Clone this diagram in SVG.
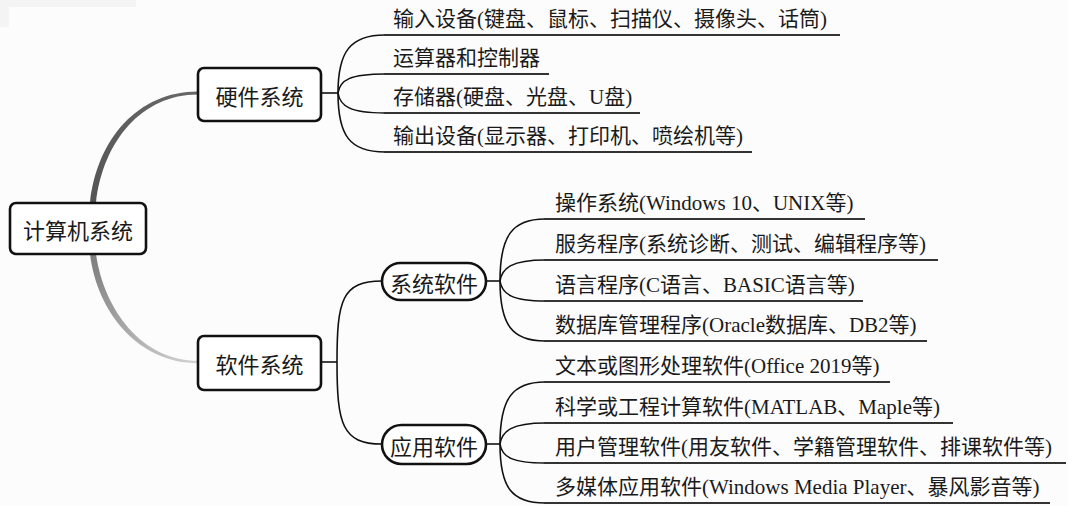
<svg xmlns="http://www.w3.org/2000/svg" width="1068" height="506" viewBox="0 0 1068 506">
<style>
.bg{fill:#fcfcfc}
.box{fill:#ffffff;stroke:#111;stroke-width:2.6}
.ntext{font-family:"Noto Sans CJK SC","Liberation Sans",sans-serif;font-size:22px;fill:#1a1a1a;text-anchor:middle;dominant-baseline:central}
.leaf{font-family:"Liberation Serif","Noto Sans CJK SC",serif;font-size:21px;fill:#1a1a1a}
.branch{fill:none;stroke:#111;stroke-width:1.6}
.uline{fill:none;stroke:#333;stroke-width:2}
</style>
<defs>
<linearGradient id="gHard" x1="0" y1="1" x2="1" y2="0">
<stop offset="0" stop-color="#555"/>
<stop offset="1" stop-color="#686868"/>
</linearGradient>
<linearGradient id="gSoft" gradientUnits="userSpaceOnUse" x1="93" y1="254" x2="198" y2="362">
<stop offset="0" stop-color="#7e7e7e"/>
<stop offset="1" stop-color="#d2d2d2"/>
</linearGradient>
</defs>
<rect class="bg" x="0" y="0" width="1068" height="506"/>
<rect x="0" y="0" width="136" height="7" fill="#f4f4f4"/>
<rect x="0" y="7" width="9" height="20" fill="#f4f4f4"/>

<g id="connectors">
<path d="M90,203 C97,139 138,91.5 198,91.5 L198,94.5 C142,94.5 103,141 96,203 Z" fill="url(#gHard)"/>
<path d="M90,254 C97,312 138,363.2 198,363.2 L198,360.8 C142,360.8 104,310 96,254 Z" fill="url(#gSoft)"/>

<path class="branch" d="M321,93 H338"/>
<path class="branch" d="M338,93 C338,52 350,35 385,35"/>
<path class="branch" d="M338,93 C340,80 350,74 385,74"/>
<path class="branch" d="M338,93 C340,106 350,113 385,113"/>
<path class="branch" d="M338,93 C338,136 350,152 385,152"/>
<path class="uline" d="M384,35 H840"/>
<path class="uline" d="M384,74 H549"/>
<path class="uline" d="M384,113 H640"/>
<path class="uline" d="M384,152 H752"/>

<path class="branch" d="M321,362 H337"/>
<path class="branch" d="M337,362 C337,300 342,281 382,281"/>
<path class="branch" d="M337,362 C337,424 342,444 382,444"/>

<path class="branch" d="M486,281 H500"/>
<path class="branch" d="M500,281 C500,236 512,219 545,219"/>
<path class="branch" d="M500,281 C502,268 512,260 545,260"/>
<path class="branch" d="M500,281 C502,294 512,301 545,301"/>
<path class="branch" d="M500,281 C500,325 512,341 545,341"/>
<path class="uline" d="M544,219 H865"/>
<path class="uline" d="M544,260 H938"/>
<path class="uline" d="M544,301 H863"/>
<path class="uline" d="M544,341 H927"/>

<path class="branch" d="M486,444 H500"/>
<path class="branch" d="M500,444 C500,399 512,382 545,382"/>
<path class="branch" d="M500,444 C502,431 512,423 545,423"/>
<path class="branch" d="M500,444 C502,457 512,463 545,463"/>
<path class="branch" d="M500,444 C500,488 512,503 545,503"/>
<path class="uline" d="M544,382 H890"/>
<path class="uline" d="M544,423 H953"/>
<path class="uline" d="M544,463 H1066"/>
<path class="uline" d="M544,503 H1050"/>
</g>

<g id="root">
<rect class="box" x="10" y="203" width="136" height="51" rx="6"/>
<text class="ntext" x="78" y="228.5">计算机系统</text>
</g>
<g id="hardware">
<rect class="box" x="198" y="68" width="123" height="53" rx="6"/>
<text class="ntext" x="259.5" y="94.5">硬件系统</text>
</g>
<g id="software">
<rect class="box" x="198" y="336" width="123" height="54" rx="6"/>
<text class="ntext" x="259.5" y="363">软件系统</text>
</g>
<g id="syssoft">
<rect class="box" x="382" y="263" width="104" height="37" rx="18.5"/>
<text class="ntext" x="434" y="281.5">系统软件</text>
</g>
<g id="appsoft">
<rect class="box" x="382" y="425" width="104" height="39" rx="19.5"/>
<text class="ntext" x="434" y="444.5">应用软件</text>
</g>

<g id="leaf-input"><text class="leaf" x="393" y="26">输入设备(键盘、鼠标、扫描仪、摄像头、话筒)</text></g>
<g id="leaf-cpu"><text class="leaf" x="393" y="65">运算器和控制器</text></g>
<g id="leaf-storage"><text class="leaf" x="393" y="104">存储器(硬盘、光盘、U盘)</text></g>
<g id="leaf-output"><text class="leaf" x="393" y="143">输出设备(显示器、打印机、喷绘机等)</text></g>

<g id="leaf-os"><text class="leaf" x="555" y="210">操作系统(Windows 10、UNIX等)</text></g>
<g id="leaf-service"><text class="leaf" x="555" y="251">服务程序(系统诊断、测试、编辑程序等)</text></g>
<g id="leaf-lang"><text class="leaf" x="555" y="292">语言程序(C语言、BASIC语言等)</text></g>
<g id="leaf-db"><text class="leaf" x="555" y="332">数据库管理程序(Oracle数据库、DB2等)</text></g>

<g id="leaf-office"><text class="leaf" x="555" y="373">文本或图形处理软件(Office 2019等)</text></g>
<g id="leaf-sci"><text class="leaf" x="555" y="414">科学或工程计算软件(MATLAB、Maple等)</text></g>
<g id="leaf-user"><text class="leaf" x="555" y="454">用户管理软件(用友软件、学籍管理软件、排课软件等)</text></g>
<g id="leaf-media"><text class="leaf" x="555" y="494">多媒体应用软件(Windows Media Player、暴风影音等)</text></g>
</svg>
